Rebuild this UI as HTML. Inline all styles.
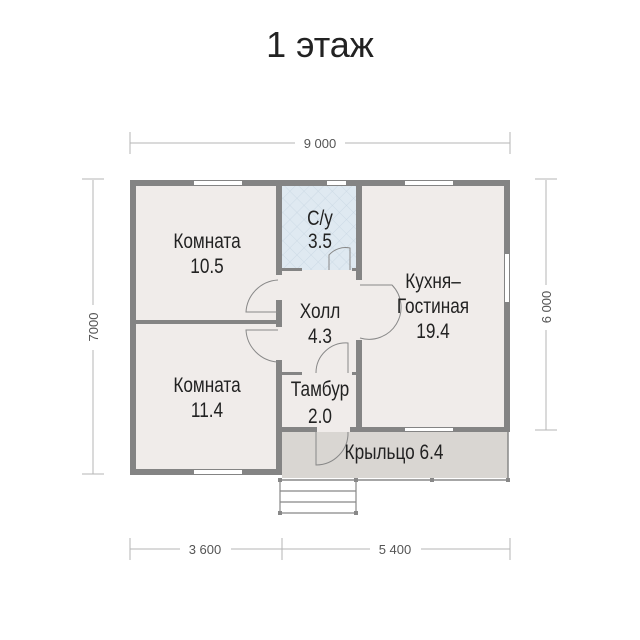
<!DOCTYPE html>
<html><head><meta charset="utf-8"><style>
html,body{margin:0;padding:0;background:#fff;}
svg{display:block;font-family:"Liberation Sans","DejaVu Sans",sans-serif;}
</style></head><body>
<svg width="640" height="640" viewBox="0 0 640 640">
<defs>
<pattern id="tile" width="10" height="10" patternUnits="userSpaceOnUse" patternTransform="rotate(45)">
<rect width="10" height="10" fill="#dfe9f1"/>
<path d="M0 0H10M0 0V10" stroke="#c7d6e2" stroke-width="0.8"/>
</pattern>
</defs>
<text x="320" y="57" font-size="36" text-anchor="middle" fill="#222">1 этаж</text>

<!-- dimensions -->
<g stroke="#b5b5b5" stroke-width="1" fill="none">
<line x1="130" y1="143" x2="295" y2="143"/><line x1="345" y1="143" x2="510" y2="143"/>
<line x1="130" y1="132" x2="130" y2="154"/><line x1="510" y1="132" x2="510" y2="154"/>
<line x1="93" y1="180" x2="93" y2="305"/><line x1="93" y1="350" x2="93" y2="474"/>
<line x1="82" y1="179" x2="104" y2="179"/><line x1="82" y1="474" x2="104" y2="474"/>
<line x1="546" y1="180" x2="546" y2="285"/><line x1="546" y1="330" x2="546" y2="430"/>
<line x1="535" y1="179" x2="557" y2="179"/><line x1="535" y1="430" x2="557" y2="430"/>
<line x1="130" y1="549" x2="180" y2="549"/><line x1="231" y1="549" x2="280" y2="549"/>
<line x1="280" y1="549" x2="370" y2="549"/><line x1="421" y1="549" x2="510" y2="549"/>
<line x1="130" y1="538" x2="130" y2="560"/><line x1="282" y1="538" x2="282" y2="560"/><line x1="510" y1="538" x2="510" y2="560"/>
</g>
<g fill="#555" font-size="13" text-anchor="middle">
<text x="320" y="148">9 000</text>
<text x="205" y="554">3 600</text>
<text x="395" y="554">5 400</text>
<text transform="translate(98,327) rotate(-90)">7000</text>
<text transform="translate(551,307) rotate(-90)">6 000</text>
</g>

<!-- floors -->
<rect x="133" y="183" width="374" height="289" fill="#f0ecea"/>
<rect x="282" y="186" width="76" height="84" fill="url(#tile)"/>
<rect x="282" y="432" width="226" height="46" fill="#d9d6d2"/>
<line x1="282" y1="480" x2="508" y2="480" stroke="#888" stroke-width="1.5"/>
<line x1="508" y1="432" x2="508" y2="480" stroke="#888" stroke-width="1.5"/>

<!-- walls -->
<g fill="#848484">
<rect x="130" y="180" width="380" height="6"/>
<rect x="130" y="180" width="6" height="295"/>
<rect x="130" y="469" width="152" height="6"/>
<rect x="504" y="180" width="6" height="252"/>
<rect x="276" y="180" width="6" height="95"/>
<rect x="276" y="300" width="6" height="18"/>
<rect x="276" y="315" width="6" height="12"/>
<rect x="276" y="360" width="6" height="115"/>
<rect x="136" y="320" width="140" height="4"/>
<rect x="356" y="180" width="6" height="100"/>
<rect x="356" y="340" width="6" height="92"/>
<rect x="282" y="268" width="20" height="3"/><rect x="352" y="268" width="6" height="3"/>
<rect x="282" y="372" width="20" height="3"/><rect x="352" y="372" width="6" height="3"/>
<rect x="282" y="427" width="35" height="5"/><rect x="350" y="427" width="160" height="5"/>
</g>
<!-- windows -->
<g fill="#fff">
<rect x="194" y="181" width="48" height="4"/>
<rect x="327" y="181" width="19" height="4"/>
<rect x="405" y="181" width="48" height="4"/>
<rect x="505" y="254" width="4" height="48"/>
<rect x="194" y="470" width="48" height="4"/>
<rect x="405" y="428" width="48" height="3"/>
</g>
<!-- doors -->
<g fill="none" stroke="#888" stroke-width="1">
<path d="M329 270 V255 A22 22 0 0 1 350 248 V270"/>
<path d="M278 280 A34 34 0 0 0 246 312 H278"/>
<path d="M278 362 A34 34 0 0 1 246 330 H278"/>
<path d="M360 285 H392 A32 32 0 0 1 360 338"/>
<path d="M316 373 A30 30 0 0 1 348 343 V373"/>
<path d="M316 432 V465 A32 32 0 0 0 348 432"/>
</g>
<!-- stairs -->
<g stroke="#888" stroke-width="1.2" fill="none">
<line x1="280" y1="480" x2="280" y2="513"/><line x1="356" y1="480" x2="356" y2="513"/>
<line x1="280" y1="491" x2="356" y2="491"/><line x1="280" y1="502" x2="356" y2="502"/><line x1="280" y1="513" x2="356" y2="513"/>
</g>
<g fill="#888"><rect x="278" y="478" width="4" height="4"/><rect x="354" y="478" width="4" height="4"/><rect x="430" y="478" width="4" height="4"/><rect x="506" y="478" width="4" height="4"/><rect x="278" y="511" width="4" height="4"/><rect x="354" y="511" width="4" height="4"/></g>

<!-- labels -->
<g fill="#222" font-size="21" text-anchor="middle">
<text transform="translate(207,248) scale(0.82,1)">Комната</text><text transform="translate(207,273) scale(0.82,1)">10.5</text>
<text transform="translate(207,392) scale(0.82,1)">Комната</text><text transform="translate(207,417) scale(0.82,1)">11.4</text>
<text transform="translate(320,225) scale(0.82,1)">С/у</text><text transform="translate(320,248) scale(0.82,1)">3.5</text>
<text transform="translate(320,318) scale(0.82,1)">Холл</text><text transform="translate(320,343) scale(0.82,1)">4.3</text>
<text transform="translate(320,396) scale(0.82,1)">Тамбур</text><text transform="translate(320,423) scale(0.82,1)">2.0</text>
<text transform="translate(433,288) scale(0.82,1)">Кухня–</text><text transform="translate(433,313) scale(0.82,1)">Гостиная</text><text transform="translate(433,338) scale(0.82,1)">19.4</text>
<text transform="translate(394,459) scale(0.82,1)">Крыльцо 6.4</text>
</g>
</svg>
</body></html>
